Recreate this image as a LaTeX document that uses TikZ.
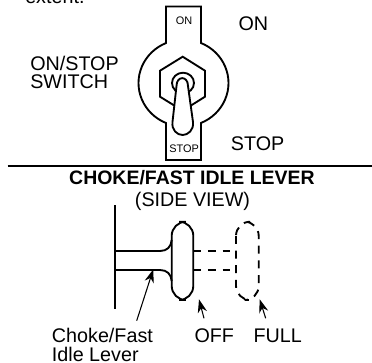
\documentclass[tikz,border=0pt]{standalone}
\usepackage{fontspec}
\setmainfont{Liberation Sans}
\usetikzlibrary{arrows.meta}
\tikzset{
  part/.style={black,line width=1.4},
  cut/.style={black,line width=1.4,dash pattern=on 6 off 5},
  pointer/.style={black,line width=0.8,-{Stealth[length=10,width=7]}},
  big/.style={inner sep=0,font=\fontsize{14.8}{16}\selectfont},
  small/.style={inner sep=0,font=\fontsize{8.2}{10}\selectfont},
}
\begin{document}
\begin{tikzpicture}[x=0.75pt,y=-0.75pt]
\useasboundingbox (0,0) rectangle (372,362);

% switch plate
\draw[part] (166,43) -- (166,6.5) -- (201,6.5) -- (201,43) arc (-67.1:67.1:45 and 43.4) -- (201,160) -- (166,160) -- (166,123) arc (112.9:247.1:45 and 43.4) -- cycle;

% hexagon
\draw[part] (182.7,56.7) -- (160,70.7) -- (160,96.7) -- (182.7,110.7) -- (205,96.7) -- (205,70.7) -- cycle;

% collar
\draw[part,fill=white] (183,83) ellipse (11 and 10.3);

% lever
\draw[part,fill=white] (176.5,86) .. controls (176.5,75.5) and (188,75.5) .. (188,86) -- (193,122) .. controls (194,130) and (188,135) .. (182.7,135) .. controls (177,135) and (171.5,130) .. (172.5,122) -- cycle;

% line
\draw[black,line width=1.3] (7.7,165.7) -- (372,165.7);

% knob
\draw[part,rounded corners=10.6] (171.7,221.7) rectangle (193.3,300);
\draw[cut,rounded corners=10.6] (236,221.7) rectangle (258.7,300);

% shaft
\draw[part,line width=1.6] (115,205) -- (115,309.3);
\draw[part] (115,251) -- (160,251) .. controls (167,251) and (171,247) .. (171.7,240);
\draw[part] (115,270) -- (160,270) .. controls (167,270) and (171,274) .. (171.7,281);
\draw[cut] (193.3,251) -- (230,251);
\draw[cut] (193.3,270) -- (230,270);

% texts
\node[big,anchor=base west] (extent) at(25,3) {extent.};
\node[small,anchor=base] (plateon) at(184,24) {ON};
\node[small,anchor=base] (platestop) at(184.2,152.7) {STOP};
\node[big,anchor=base west] (on) at(238.3,30.7) {ON};
\node[big,anchor=base west] (stop) at(230.7,150.7) {STOP};
\node[big,anchor=base west] (switch1) at(30,70) {ON/STOP};
\node[big,anchor=base west] (switch2) at(30,88.3) {SWITCH};
\node[big,anchor=base,font=\fontsize{14.6}{16}\bfseries\selectfont] (title) at(192,184) {CHOKE/FAST IDLE LEVER};
\node[big,anchor=base] (view) at(192.5,206.7) {(SIDE VIEW)};
\node[big,anchor=base west] (lever1) at(51.7,342.3) {Choke/Fast};
\node[big,anchor=base west] (lever2) at(51.7,361) {Idle Lever};
\node[big,anchor=base west] (off) at(194.3,342.3) {OFF};
\node[big,anchor=base west] (full) at(253.3,342.3) {FULL};

% pointers
\coordinate (levertip) at(153.3,269.3);
\coordinate (levertail) at(136.7,320.7);
\coordinate (offtip) at(199,299.3);
\coordinate (offtail) at(204,318.3);
\coordinate (fulltip) at(259.7,299.3);
\coordinate (fulltail) at(265.7,318.3);
\draw[pointer] (levertail)--(levertip);
\draw[pointer] (offtail)--(offtip);
\draw[pointer] (fulltail)--(fulltip);

\end{tikzpicture}
\end{document}
